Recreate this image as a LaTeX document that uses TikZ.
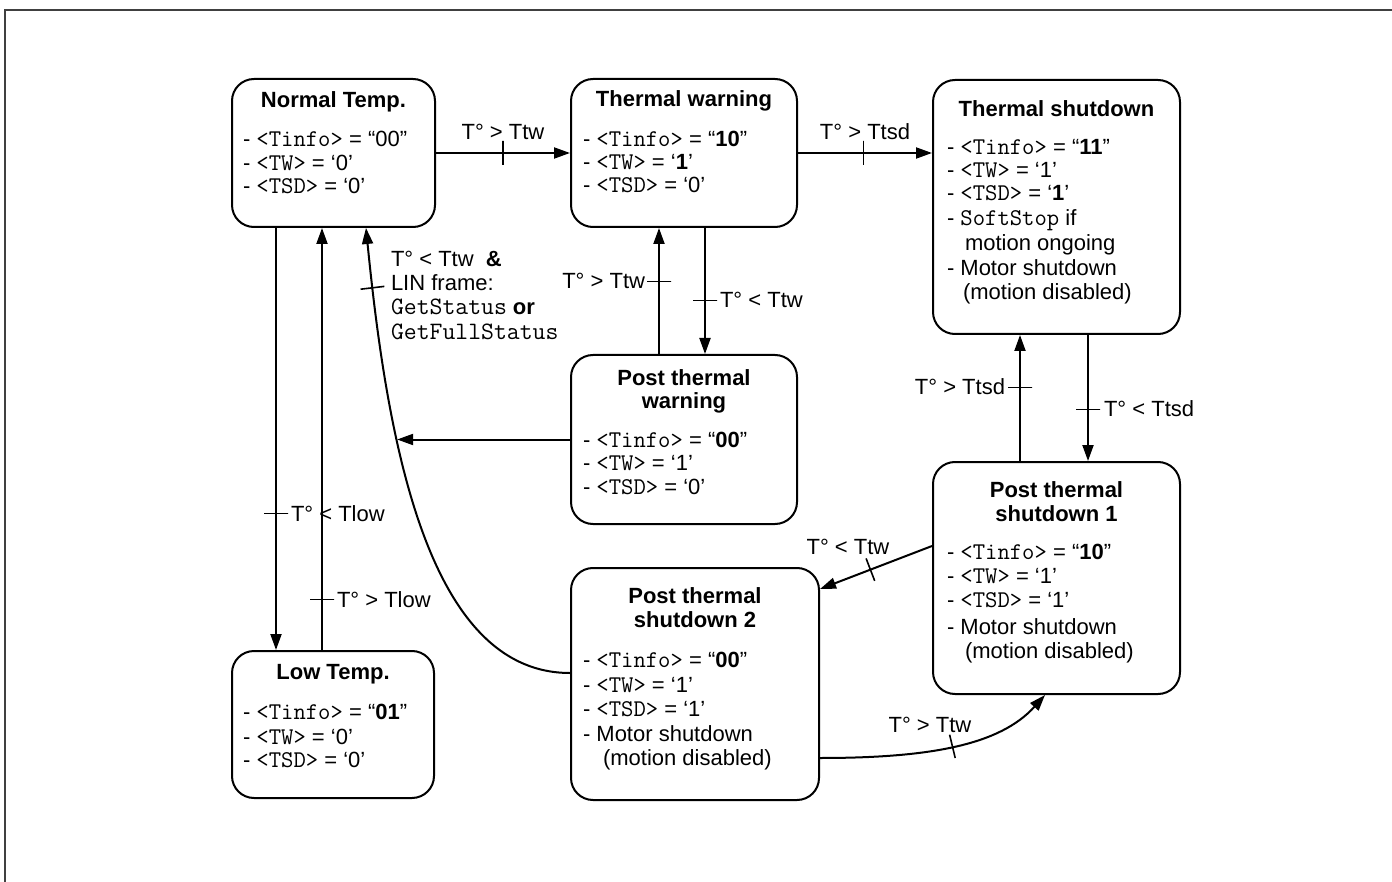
\documentclass[tikz,border=0pt]{standalone}
\usepackage{fontspec}
\setmainfont{Liberation Sans}
\usetikzlibrary{arrows.meta}
\newcommand{\mt}[1]{{\fontsize{24}{24}\selectfont\ttfamily #1}}
\newcommand{\mtl}[1]{{\fontsize{25}{24}\selectfont\ttfamily #1}}
\newcommand{\stbox}[5]{\node[box, minimum width={#4-#2}, minimum height={#5-#3}] (#1) at ({(#2+#4)/2},{(#3+#5)/2}) {};}
\begin{document}
\begin{tikzpicture}[x=1pt,y=-1pt,
  font=\fontsize{22}{24}\selectfont,
  box/.style={draw, line width=2pt, rounded corners=22pt, inner sep=0pt},
  lab/.style={inner sep=0pt, outer sep=0pt},
  ttl/.style={lab, anchor=base, font=\fontsize{22}{24}\selectfont\bfseries},
  ln/.style={lab, anchor=base west},
  arr/.style={line width=2pt, -{Triangle[length=16pt,width=11pt]}},
  tk/.style={sloped, draw, line width=1.6pt, inner sep=0pt, outer sep=0pt, minimum width=0pt, minimum height=24pt}]
\useasboundingbox (0,0) rectangle (1392,882);
\draw[line width=2pt, black!75] (5,882) -- (5,10.5) -- (1392,10.5);

% boxes
\stbox{nt}{232}{79}{435}{227}
\stbox{tw}{571}{79}{797}{227}
\stbox{ts}{933}{80}{1180}{334}
\stbox{ptw}{571}{355}{797}{524}
\stbox{pts1}{933}{462}{1180}{694}
\stbox{pts2}{571}{568}{819}{800}
\stbox{low}{232}{651}{434}{798}

% Normal Temp.
\node[ttl] (ntT) at (333.5,108) {Normal Temp.};
\node[ln] (nt1) at (243,147) {- \mt{<Tinfo>} = “00”};
\node[ln] (nt2) at (243,171) {- \mt{<TW>} = ‘0’};
\node[ln] (nt3) at (243,194) {- \mt{<TSD>} = ‘0’};

% Thermal warning
\node[ttl] (twT) at (684,107) {Thermal warning};
\node[ln] (tw1) at (583,147) {- \mt{<Tinfo>} = “\textbf{10}”};
\node[ln] (tw2) at (583,170) {- \mt{<TW>} = ‘\textbf{1}’};
\node[ln] (tw3) at (583,193) {- \mt{<TSD>} = ‘0’};

% Thermal shutdown
\node[ttl] (tsT) at (1056.5,117) {Thermal shutdown};
\node[ln] (ts1) at (947,155) {- \mt{<Tinfo>} = “\textbf{11}”};
\node[ln] (ts2) at (947,178) {- \mt{<TW>} = ‘1’};
\node[ln] (ts3) at (947,201) {- \mt{<TSD>} = ‘\textbf{1}’};
\node[ln] (ts4) at (947,226) {- \mt{SoftStop} if};
\node[ln] (ts5) at (965,251) {motion ongoing};
\node[ln] (ts6) at (947,276) {- Motor shutdown};
\node[ln] (ts7) at (963,300) {(motion disabled)};

% Post thermal warning
\node[ttl] (ptwT1) at (684,385) {Post thermal};
\node[ttl] (ptwT2) at (684,408) {warning};
\node[ln] (ptw1) at (583,447) {- \mt{<Tinfo>} = “\textbf{00}”};
\node[ln] (ptw2) at (583,470) {- \mt{<TW>} = ‘1’};
\node[ln] (ptw3) at (583,494) {- \mt{<TSD>} = ‘0’};

% Post thermal shutdown 1
\node[ttl] (p1T1) at (1056.5,497) {Post thermal};
\node[ttl] (p1T2) at (1056.5,521) {shutdown 1};
\node[ln] (p11) at (947,559) {- \mt{<Tinfo>} = “\textbf{10}”};
\node[ln] (p12) at (947,583) {- \mt{<TW>} = ‘1’};
\node[ln] (p13) at (947,607) {- \mt{<TSD>} = ‘1’};
\node[ln] (p14) at (947,634) {- Motor shutdown};
\node[ln] (p15) at (965,658) {(motion disabled)};

% Post thermal shutdown 2
\node[ttl] (p2T1) at (695,603) {Post thermal};
\node[ttl] (p2T2) at (695,627) {shutdown 2};
\node[ln] (p21) at (583,667) {- \mt{<Tinfo>} = “\textbf{00}”};
\node[ln] (p22) at (583,692) {- \mt{<TW>} = ‘1’};
\node[ln] (p23) at (583,716) {- \mt{<TSD>} = ‘1’};
\node[ln] (p24) at (583,741) {- Motor shutdown};
\node[ln] (p25) at (603,765) {(motion disabled)};

% Low Temp.
\node[ttl] (lowT) at (333,679) {Low Temp.};
\node[ln] (low1) at (243,719) {- \mt{<Tinfo>} = “\textbf{01}”};
\node[ln] (low2) at (243,744) {- \mt{<TW>} = ‘0’};
\node[ln] (low3) at (243,767) {- \mt{<TSD>} = ‘0’};

% anchor coordinates
\coordinate (a1) at ([xshift=-57.5pt]nt.south);
\coordinate (a2) at ([xshift=-11.5pt]nt.south);
\coordinate (a3) at ([xshift=32.5pt]nt.south);
\coordinate (b1) at ([xshift=-25pt]tw.south);
\coordinate (b2) at ([xshift=21pt]tw.south);
\coordinate (d1) at ([xshift=-36.5pt]ts.south);
\coordinate (d2) at ([xshift=31.5pt]ts.south);

% connectors
\draw[arr] (nt.east) -- node[tk, pos=0.5] (k1) {} (tw.west);
\draw[arr] (tw.east) -- node[tk, pos=0.49] (k2) {} (tw.east -| ts.west);
\draw[arr] (a1) -- node[tk, pos=0.677] (k3) {} (a1 |- low.north);
\draw[arr] (a2 |- low.north) -- node[tk, pos=0.12] (k4) {} (a2);
\draw[arr] (b1 |- ptw.north) -- node[tk, pos=0.575] (k5) {} (b1);
\draw[arr] (b2) -- node[tk, pos=0.575] (k6) {} (b2 |- ptw.north);
\draw[arr] (d1 |- pts1.north) -- node[tk, pos=0.583] (k7) {} (d1);
\draw[arr] (d2) -- node[tk, pos=0.59] (k8) {} (d2 |- pts1.north);
\draw[arr] ([yshift=32pt]pts1.west) -- node[tk, pos=0.55] (k9) {} ([yshift=-22pt]pts2.north east);
\draw[arr] ([yshift=-74pt]pts2.east) .. controls (930,758) and (1000,745) .. node[tk, pos=0.48] (k10) {} ([xshift=-11.5pt]pts1.south);
\draw[arr] ([yshift=11pt]pts2.west) .. controls (430,673) and (388,450) .. node[coordinate, pos=0.67] (c1) {} node[tk, pos=0.91] (k11) {} (a3);
\draw[arr] (ptw.west) -- (ptw.west -| c1);

% labels
\node[lab, anchor=base] (L1) at (503,140) {T° > Ttw};
\node[lab, anchor=base] (L2) at (865,140) {T° > Ttsd};
\node[lab, anchor=base east] (L3) at (645,289) {T° > Ttw};
\node[lab, anchor=base west] (L4) at (720,308) {T° < Ttw};
\node[lab, anchor=base east] (L5) at (1005,395) {T° > Ttsd};
\node[lab, anchor=base west] (L6) at (1104,417) {T° < Ttsd};
\node[lab, anchor=base west] (L7) at (291,521) {T° < Tlow};
\node[lab, anchor=base west] (L8) at (337,607) {T° > Tlow};
\node[lab, anchor=base] (L9) at (848,554) {T° < Ttw};
\node[lab, anchor=base] (L10) at (930,732) {T° > Ttw};
\node[lab, anchor=base west] (C1) at (391,267) {T° < Ttw\ \ \textbf{\&}};
\node[lab, anchor=base west] (C2) at (391,291) {LIN frame:};
\node[lab, anchor=base west] (C3) at (391,315) {\mtl{GetStatus} \textbf{or}};
\node[lab, anchor=base west] (C4) at (391,340) {\mtl{GetFullStatus}};
\end{tikzpicture}
\end{document}
